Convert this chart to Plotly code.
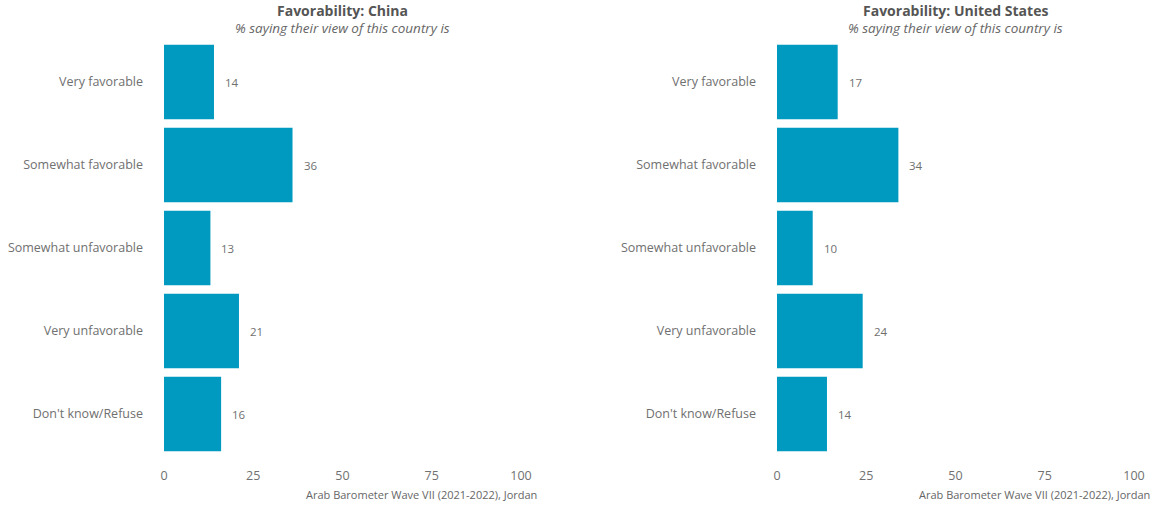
import plotly.graph_objects as go

categories = ["Very favorable", "Somewhat favorable", "Somewhat unfavorable",
              "Very unfavorable", "Don't know/Refuse"]
china = [14, 36, 13, 21, 16]
usa = [17, 34, 10, 24, 14]
x_ticks = [0, 25, 50, 75, 100]
titles = ["Favorability: China", "Favorability: United States"]
subtitle = "% saying their view of this country is"
caption = "Arab Barometer Wave VII (2021-2022), Jordan"

W, H = 1157, 506
FONT = "Open Sans"
BAR = "#0099c0"
TXT = "#707070"

dom1 = [164 / W, 521 / W]
dom2 = [777 / W, 1134 / W]
ydom = [1 - 455.5 / H, 1 - 40.5 / H]

fig = go.Figure()
for i, (vals, xa, ya) in enumerate([(china, "x", "y"), (usa, "x2", "y2")]):
    fig.add_trace(go.Bar(x=vals, y=categories, orientation="h", marker_color=BAR,
                         marker_line_width=0, xaxis=xa, yaxis=ya, showlegend=False,
                         hoverinfo="x+y"))
    for c, v in zip(categories, vals):
        fig.add_annotation(x=v, y=c, xref=xa, yref=ya, text=str(v), showarrow=False,
                           xanchor="left", xshift=9,
                           font=dict(family=FONT, size=11.5, color=TXT))

axis_common = dict(range=[0, 100], tickvals=x_ticks, showgrid=False, zeroline=False,
                   showline=False, ticks="", tickfont=dict(family=FONT, size=12.5, color=TXT),
                   ticklabelstandoff=11, fixedrange=True, automargin=False)
yaxis_common = dict(domain=ydom, autorange="reversed", showgrid=False, zeroline=False,
                    showline=False, ticks="", categoryorder="array", categoryarray=categories,
                    tickfont=dict(family=FONT, size=12.5, color=TXT), ticklabelstandoff=20,
                    fixedrange=True, automargin=False)

fig.update_layout(
    template="none",
    width=W, height=H, autosize=False,
    margin=dict(l=0, r=0, t=0, b=0, pad=0),
    paper_bgcolor="white", plot_bgcolor="white",
    bargap=0.1,
    xaxis=dict(domain=dom1, anchor="y", **axis_common),
    xaxis2=dict(domain=dom2, anchor="y2", **axis_common),
    yaxis=dict(anchor="x", **yaxis_common),
    yaxis2=dict(anchor="x2", **yaxis_common),
)

for dom, t in zip([dom1, dom2], titles):
    cx = (dom[0] + dom[1]) / 2
    fig.add_annotation(x=cx, y=1 - 11 / H, xref="paper", yref="paper", text=f"<b>{t}</b>",
                       showarrow=False, xanchor="center", yanchor="middle",
                       font=dict(family=FONT, size=14, color="#555555"))
    fig.add_annotation(x=cx, y=1 - 27.5 / H, xref="paper", yref="paper", text=f"<i>{subtitle}</i>",
                       showarrow=False, xanchor="center", yanchor="middle",
                       font=dict(family=FONT, size=13.5, color="#666666"))
    fig.add_annotation(x=dom[1] + 18 / W, y=1 - 494 / H, xref="paper", yref="paper",
                       text=caption, showarrow=False, xanchor="right", yanchor="middle",
                       font=dict(family=FONT, size=11, color="#666666"))

fig.write_html(
    "out.html",
    config={"displayModeBar": False, "responsive": False},
    post_script="document.body.style.margin='0';document.body.style.overflow='hidden';"
                "document.documentElement.style.overflow='hidden';",
)
